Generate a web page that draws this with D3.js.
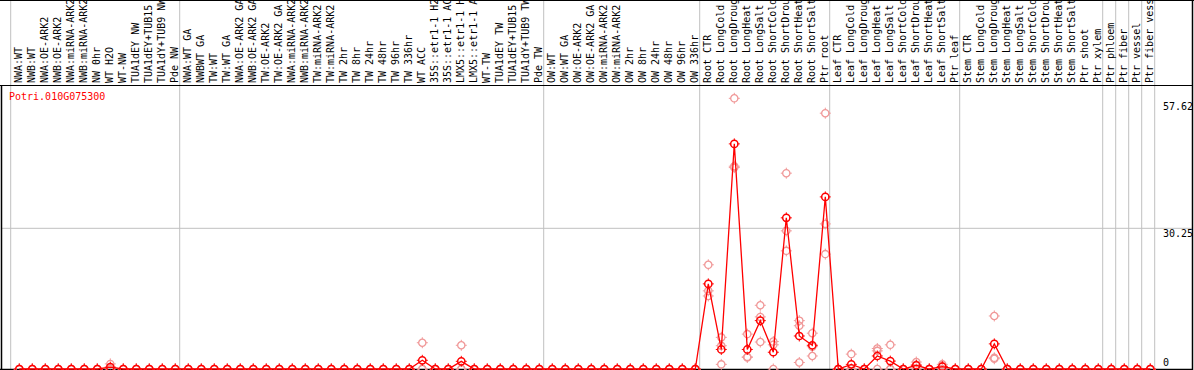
<!DOCTYPE html>
<html lang="en">
<head>
  <meta charset="UTF-8">
  <title>Potri.010G075300 expression</title>
  <script src="https://d3js.org/d3.v7.min.js"></script>
  <style>
    body { margin: 0; background: #fff; }
    text { font-family: "DejaVu Sans Mono", monospace; font-size: 10px; }
  </style>
</head>
<body>
  <svg width="1194" height="370"></svg>

  <script>
    // sample labels (left to right)
    const categories = [
      "NWA:WT", "NWB:WT", "NWA:OE-ARK2", "NWB:OE-ARK2", "NWA:miRNA-ARK2", "NWB:miRNA-ARK2", "NW 0hr",
      "WT H2O", "WT-NW", "TUA1dEY NW", "TUA1dEY+TUB15 NW", "TUA1dY+TUB9 NW", "Pde NW",
      "NWA:WT GA", "NWBWT GA", "TW:WT", "TW:WT GA", "NWA:OE-ARK2 GA", "NWB:OE-ARK2 GA", "TW:OE-ARK2",
      "TW:OE-ARK2 GA", "NWA:miRNA-ARK2", "NWB:miRNA-ARK2", "TW:miRNA-ARK2", "TW:miRNA-ARK2", "TW 2hr",
      "TW 8hr", "TW 24hr", "TW 48hr", "TW 96hr", "TW 336hr", "WT ACC", "35S::etr1-1 H2O", "35S::etr1-1 ACC",
      "LMX5::etr1-1 H2O", "LMX5::etr1-1 ACC", "WT-TW", "TUA1dEY TW", "TUA1dEY+TUB15 TW", "TUA1dY+TUB9 TW", "Pde TW",
      "OW:WT", "OW:WT GA", "OW:OE-ARK2", "OW:OE-ARK2 GA", "OW:miRNA-ARK2", "OW:miRNA-ARK2", "OW 2hr",
      "OW 8hr", "OW 24hr", "OW 48hr", "OW 96hr", "OW 336hr",
      "Root CTR", "Root LongCold", "Root LongDrought", "Root LongHeat", "Root LongSalt", "Root ShortCold",
      "Root ShortDrought", "Root ShortHeat", "Root ShortSalt", "Ptr root",
      "Leaf CTR", "Leaf LongCold", "Leaf LongDrought", "Leaf LongHeat", "Leaf LongSalt", "Leaf ShortCold",
      "Leaf ShortDrought", "Leaf ShortHeat", "Leaf ShortSalt", "Ptr leaf",
      "Stem CTR", "Stem LongCold", "Stem LongDrought", "Stem LongHeat", "Stem LongSalt", "Stem ShortCold",
      "Stem ShortDrought", "Stem ShortHeat", "Stem ShortSalt", "Ptr shoot", "Ptr xylem",
      "Ptr phloem", "Ptr fiber", "Ptr vessel", "Ptr fiber vessel"
    ];

    // index where each block of samples starts (separator lines)
    const groupStarts = [0, 13, 41, 53, 63, 73, 84, 85, 86, 87, 88];

    // mean expression
    const meanValues = [
      0, 0, 0, 0, 0, 0, 0, 0.4, 0, 0, 0, 0, 0,
      0, 0, 0, 0, 0, 0, 0, 0, 0, 0, 0, 0, 0, 0, 0, 0, 0, 0, 1.87, 0, 0, 1.65, 0, 0, 0, 0, 0, 0,
      0, 0, 0, 0, 0, 0, 0, 0, 0, 0, 0, 0,
      18.3, 4.2, 48.4, 4.2, 10.4, 3.6, 32.5, 7.1, 5.1, 37.0,
      0, 1.0, 0, 2.8, 1.7, 0, 0.8, 0, 0.5, 0,
      0, 0, 5.4, 0, 0, 0, 0, 0, 0, 0, 0,
      0, 0, 0, 0
    ];

    // replicates
    const rep1 = [
      0, 0, 0, 0, 0, 0, 0, 1.1, 0, 0, 0, 0, 0,
      0, 0, 0, 0, 0, 0, 0, 0, 0, 0, 0, 0, 0, 0, 0, 0, 0, 0, 5.65, 0, 0, 5.1, 0, 0, 0, 0, 0, 0,
      0, 0, 0, 0, 0, 0, 0, 0, 0, 0, 0, 0,
      22.4, 6.8, 58.2, 7.5, 13.7, 5.9, 42.1, 10.4, 7.7, 55.0,
      0, 3.2, 0, 4.4, 5.2, 0, 1.5, 0, 1.0, 0,
      0, 0, 11.4, 0, 0, 0, 0, 0, 0, 0, 0,
      0, 0, 0, 0
    ];
    const rep2 = [
      0, 0, 0, 0, 0, 0, 0, 0.1, 0, 0, 0, 0, 0,
      0, 0, 0, 0, 0, 0, 0, 0, 0, 0, 0, 0, 0, 0, 0, 0, 0, 0, 0, 0, 0, 0, 0, 0, 0, 0, 0, 0,
      0, 0, 0, 0, 0, 0, 0, 0, 0, 0, 0, 0,
      16.8, 5.0, 43.6, 2.6, 11.2, 5.2, 29.7, 9.3, 4.8, 31.2,
      0, 0, 0, 3.9, 0, 0, 0.9, 0, 0.6, 0,
      0, 0, 2.4, 0, 0, 0, 0, 0, 0, 0, 0,
      0, 0, 0, 0
    ];
    const rep3 = [
      0, 0, 0, 0, 0, 0, 0, 0, 0, 0, 0, 0, 0,
      0, 0, 0, 0, 0, 0, 0, 0, 0, 0, 0, 0, 0, 0, 0, 0, 0, 0, 0, 0, 0, 0, 0, 0, 0, 0, 0, 0,
      0, 0, 0, 0, 0, 0, 0, 0, 0, 0, 0, 0,
      15.7, 1.0, 43.3, 2.5, 5.8, 0, 25.4, 1.4, 2.8, 24.7,
      0, 0, 0, 0, 0, 0, 0, 0, 0, 0,
      0, 0, 2.2, 0, 0, 0, 0, 0, 0, 0, 0,
      0, 0, 0, 0
    ];

    const geneName = "Potri.010G075300";
    const yTicks = [0, 30.25, 57.62];
    const yMax = 60.5;

    const svg = d3.select("svg");
    const width = 1194;
    const plotTop = 85, plotBottom = 369, rightEdge = 1192.5;

    // x: one 13px slot per sample
    const idx = d3.range(categories.length);
    const x = d3.scaleBand()
                .domain(idx)
                .range([10.7, 10.7 + 13 * categories.length])
                .paddingInner(0);
    const px = i => x(i) + 8.6;
    const edge = k => 10.7 + 13 * k;

    const y = d3.scaleLinear()
                .domain([0, yMax])
                .range([plotBottom, 87.6]);

    // grey separator lines
    svg.append("g").selectAll("line")
       .data(groupStarts)
       .enter().append("line")
       .attr("x1", d => edge(d)).attr("x2", d => edge(d))
       .attr("y1", 0).attr("y2", plotBottom)
       .attr("stroke", "#c0c0c0").attr("stroke-width", 1);

    // mid grid line
    svg.append("line")
       .attr("x1", 1).attr("x2", rightEdge)
       .attr("y1", y(30.25)).attr("y2", y(30.25))
       .attr("stroke", "#c0c0c0").attr("stroke-width", 1);

    // frame
    svg.append("line").attr("x1", 0).attr("x2", width).attr("y1", 0.5).attr("y2", 0.5)
       .attr("stroke", "#000");
    svg.append("line").attr("x1", 0).attr("x2", rightEdge).attr("y1", plotTop + 0.5).attr("y2", plotTop + 0.5)
       .attr("stroke", "#000");
    svg.append("line").attr("x1", 0).attr("x2", rightEdge).attr("y1", plotBottom + 0.5).attr("y2", plotBottom + 0.5)
       .attr("stroke", "#000").attr("stroke-width", 1.5);
    svg.append("line").attr("x1", 1.5).attr("x2", 1.5).attr("y1", plotTop).attr("y2", 370)
       .attr("stroke", "#000").attr("stroke-width", 1.5);
    svg.append("line").attr("x1", rightEdge).attr("x2", rightEdge).attr("y1", 0).attr("y2", 370)
       .attr("stroke", "#000").attr("stroke-width", 1.5);

    // sample labels, rotated
    svg.append("g").selectAll("text")
       .data(idx)
       .enter().append("text")
       .attr("transform", i => "translate(" + (px(i) + 3) + "," + 83 + ") rotate(-90)")
       .attr("fill", "#000")
       .text(i => categories[i]);

    // gene name
    svg.append("text")
       .attr("x", 9).attr("y", 100)
       .attr("fill", "#ff0000")
       .text(geneName);

    // y tick labels
    svg.append("g").selectAll("text")
       .data(yTicks)
       .enter().append("text")
       .attr("x", 1163)
       .attr("y", d => d === 0 ? 366 : y(d) + 9)
       .attr("fill", "#000")
       .text(d => d);

    const marker = "M0,-5.5V-3.5M0,3.5V5.5M-5.5,0H-3.5M3.5,0H5.5";

    // replicate points
    const reps = [];
    [rep1, rep2, rep3].forEach(r => r.forEach((v, i) => reps.push({i: i, v: v})));
    const repG = svg.append("g").selectAll("g")
       .data(reps)
       .enter().append("g")
       .attr("transform", d => "translate(" + px(d.i) + "," + y(d.v) + ")");
    repG.append("circle").attr("r", 3.6)
        .attr("fill", "none").attr("stroke", "#f09898").attr("stroke-width", 1.3);
    repG.append("path").attr("d", marker)
        .attr("stroke", "#f09898").attr("stroke-width", 1);

    // mean line
    const line = d3.line()
                   .x((d, i) => px(i))
                   .y(d => y(d));
    svg.append("path")
       .datum(meanValues)
       .attr("d", line)
       .attr("fill", "none")
       .attr("stroke", "#ff0000")
       .attr("stroke-width", 1.3);

    // mean points
    const meanG = svg.append("g").selectAll("g")
       .data(meanValues)
       .enter().append("g")
       .attr("transform", (d, i) => "translate(" + px(i) + "," + y(d) + ")");
    meanG.append("circle").attr("r", 3.6)
         .attr("fill", "none").attr("stroke", "#ff0000").attr("stroke-width", 1.5);
    meanG.append("path").attr("d", marker)
         .attr("stroke", "#ff0000").attr("stroke-width", 1);
  </script>
</body>
</html>
